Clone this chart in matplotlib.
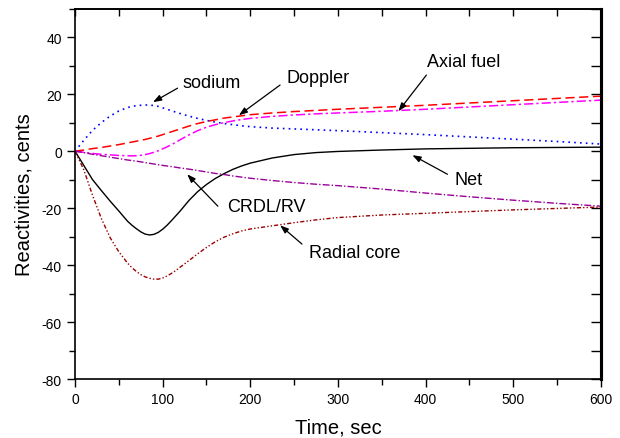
import matplotlib
matplotlib.use('Agg')
import matplotlib.pyplot as plt
from matplotlib.ticker import MultipleLocator

plt.rcParams['font.family'] = ['Liberation Sans', 'DejaVu Sans']
plt.rcParams['axes.unicode_minus'] = False

# time grid, sec
time = [0, 10, 20, 30, 40, 50, 60, 65, 70, 75, 80, 85, 90, 95, 100, 105, 110,
        115, 120, 130, 140, 150, 160, 170, 180, 190, 200, 225, 250, 275, 300,
        350, 400, 450, 500, 550, 600]

# reactivity components, cents
sodium = [0, 3.8, 7.3, 10.0, 12.3, 14.1, 15.3, 15.7, 15.95, 16.1, 16.2, 16.2,
          16.0, 15.7, 15.2, 14.7, 14.2, 13.7, 13.2, 12.3, 11.5, 10.8, 10.2, 9.7,
          9.3, 8.9, 8.6, 8.1, 7.8, 7.5, 7.2, 6.5, 5.8, 5.0, 4.2, 3.4, 2.5]
doppler = [0, 0.4, 0.9, 1.3, 1.8, 2.3, 2.9, 3.2, 3.5, 3.8, 4.1, 4.5, 4.9, 5.3,
           5.8, 6.3, 6.8, 7.3, 7.8, 8.8, 9.7, 10.4, 11.0, 11.6, 12.0, 12.4,
           12.8, 13.4, 13.9, 14.3, 14.7, 15.4, 16.1, 16.9, 17.7, 18.5, 19.3]
axial_fuel = [0, -0.4, -0.8, -1.1, -1.3, -1.5, -1.6, -1.65, -1.6, -1.45, -1.2,
              -0.85, -0.4, 0.15, 0.8, 1.5, 2.3, 3.1, 4.0, 5.7, 7.2, 8.4, 9.3,
              10.0, 10.6, 11.1, 11.5, 12.2, 12.7, 13.1, 13.4, 14.0, 14.7, 15.5,
              16.3, 17.1, 17.9]
net = [0, -5.0, -10.0, -13.8, -17.5, -21.0, -24.6, -26.0, -27.2, -28.3, -29.1,
       -29.4, -29.2, -28.5, -27.4, -26.0, -24.4, -22.7, -21.0, -17.3, -14.2,
       -11.7, -9.6, -7.9, -6.4, -5.2, -4.2, -2.4, -1.2, -0.5, -0.1, 0.4, 0.8,
       1.0, 1.2, 1.3, 1.4]
crdl_rv = [0, -0.5, -1.1, -1.6, -2.1, -2.6, -3.1, -3.3, -3.5, -3.75, -4.0,
           -4.25, -4.5, -4.75, -5.0, -5.2, -5.4, -5.65, -5.9, -6.3, -6.8, -7.3,
           -7.8, -8.2, -8.7, -9.1, -9.5, -10.3, -11.0, -11.6, -12.1, -13.3,
           -14.7, -16.0, -17.2, -18.3, -19.3]
radial_core = [0, -6.5, -15.5, -23.6, -30.3, -35.3, -39.3, -40.9, -42.2, -43.3,
               -44.1, -44.6, -44.9, -44.9, -44.5, -43.8, -42.9, -41.9, -40.7,
               -38.4, -36.0, -33.8, -31.8, -30.2, -29.0, -28.0, -27.3, -26.2,
               -25.1, -24.1, -23.3, -22.4, -21.8, -21.2, -20.6, -20.1, -19.6]

fig = plt.figure(figsize=(6.2, 4.39), dpi=100)
ax = fig.add_axes([0.121, 0.134, 0.848, 0.844])

ax.plot(time, sodium, color='#0000ff', lw=1.2, linestyle=(0, (1, 2.5)))
ax.plot(time, doppler, color='#ff0000', lw=1.1, linestyle=(0, (6, 3)))
ax.plot(time, axial_fuel, color='#ff00ff', lw=1.1, linestyle=(0, (6, 2, 1.5, 2)))
ax.plot(time, net, color='black', lw=1.0)
ax.plot(time, crdl_rv, color='#990099', lw=1.0, linestyle=(0, (5, 1.5, 1, 1.5)))
ax.plot(time, radial_core, color='#990000', lw=1.0,
        linestyle=(0, (3, 1.5, 1, 1.5, 1, 1.5)))

ax.set_xlim(0, 600)
ax.set_ylim(-80, 50)
ax.xaxis.set_major_locator(MultipleLocator(100))
ax.xaxis.set_minor_locator(MultipleLocator(50))
ax.set_yticks([-80, -60, -40, -20, 0, 20, 40])
ax.yaxis.set_minor_locator(MultipleLocator(10))
ax.tick_params(which='major', direction='out', length=6, width=1, labelsize=10)
ax.tick_params(which='minor', direction='out', length=4, width=1)

for side in ['left', 'bottom', 'top']:
    ax.spines[side].set_linewidth(1.2)
ax.spines['right'].set_linewidth(2.2)

# inward ticks on the top and right frame
top = ax.secondary_xaxis('top')
top.set_xticks(range(0, 601, 50))
top.tick_params(direction='in', length=5, width=1, labeltop=False)
top.spines['top'].set_linewidth(1.2)
right = ax.secondary_yaxis('right')
right.set_yticks(range(-80, 51, 10))
right.tick_params(direction='in', length=7, width=1, labelright=False)
right.spines['right'].set_linewidth(2.2)

ax.set_xlabel('Time, sec', fontsize=14.5, labelpad=8)
ax.set_ylabel('Reactivities, cents', fontsize=14.5, labelpad=6)

# labels: text centre, arrow tail, arrow head (data coordinates)
labels = [
    ('sodium', (156, 24.2), (117, 22.1), (89, 17.2)),
    ('Doppler', (277, 26.0), (234, 23.2), (187, 12.6)),
    ('Axial fuel', (444, 31.6), (401, 26.7), (369, 14.0)),
    ('Net', (449, -9.8), (425, -8.1), (385, -1.4)),
    ('CRDL/RV', (218, -19.3), (163, -19.3), (128, -8.1)),
    ('Radial core', (319, -35.4), (259, -32.6), (234, -26.0)),
]
for name, pos, tail, head in labels:
    ax.text(pos[0], pos[1], name, fontsize=13, ha='center', va='center')
    ax.annotate('', xy=head, xytext=tail,
                arrowprops=dict(arrowstyle='-|>,head_length=0.5,head_width=0.18',
                                color='black', lw=0.9,
                                shrinkA=0, shrinkB=0))

plt.savefig('out.png', dpi=100)
